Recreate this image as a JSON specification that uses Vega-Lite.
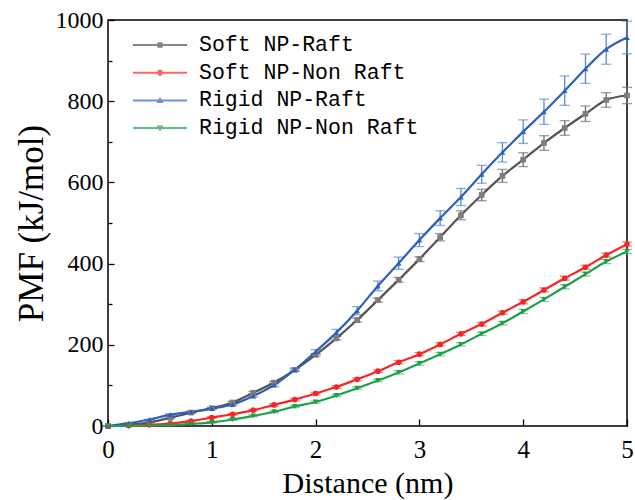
{
  "$schema": "https://vega.github.io/schema/vega-lite/v6.json",
  "width": 519,
  "height": 406,
  "autosize": {"type": "none"},
  "padding": {"left": 108, "top": 20, "right": 8, "bottom": 74},
  "background": "white",
  "config": {
    "view": {"stroke": "#000000", "strokeWidth": 1.5},
    "font": "Liberation Serif",
    "axis": {
      "grid": false,
      "domain": false,
      "tickColor": "#000000",
      "tickWidth": 1.3,
      "labelColor": "#000000",
      "titleColor": "#000000",
      "titleFontWeight": "normal"
    }
  },
  "datasets": {
    "pmf": [
      {"series": "Soft NP-Raft", "d": 0.0, "pmf": 0, "err": 0},
      {"series": "Soft NP-Raft", "d": 0.2, "pmf": 3, "err": 1},
      {"series": "Soft NP-Raft", "d": 0.4, "pmf": 9, "err": 1},
      {"series": "Soft NP-Raft", "d": 0.6, "pmf": 20, "err": 2},
      {"series": "Soft NP-Raft", "d": 0.8, "pmf": 33, "err": 2},
      {"series": "Soft NP-Raft", "d": 1.0, "pmf": 44, "err": 2},
      {"series": "Soft NP-Raft", "d": 1.2, "pmf": 58, "err": 3},
      {"series": "Soft NP-Raft", "d": 1.4, "pmf": 82, "err": 3},
      {"series": "Soft NP-Raft", "d": 1.6, "pmf": 107, "err": 3},
      {"series": "Soft NP-Raft", "d": 1.8, "pmf": 138, "err": 3},
      {"series": "Soft NP-Raft", "d": 2.0, "pmf": 175, "err": 3},
      {"series": "Soft NP-Raft", "d": 2.2, "pmf": 216, "err": 4},
      {"series": "Soft NP-Raft", "d": 2.4, "pmf": 261, "err": 5},
      {"series": "Soft NP-Raft", "d": 2.6, "pmf": 310, "err": 5},
      {"series": "Soft NP-Raft", "d": 2.8, "pmf": 360, "err": 6},
      {"series": "Soft NP-Raft", "d": 3.0, "pmf": 411, "err": 6},
      {"series": "Soft NP-Raft", "d": 3.2, "pmf": 465, "err": 9},
      {"series": "Soft NP-Raft", "d": 3.4, "pmf": 519, "err": 11},
      {"series": "Soft NP-Raft", "d": 3.6, "pmf": 569, "err": 14},
      {"series": "Soft NP-Raft", "d": 3.8, "pmf": 616, "err": 16},
      {"series": "Soft NP-Raft", "d": 4.0, "pmf": 656, "err": 17},
      {"series": "Soft NP-Raft", "d": 4.2, "pmf": 697, "err": 18},
      {"series": "Soft NP-Raft", "d": 4.4, "pmf": 734, "err": 18},
      {"series": "Soft NP-Raft", "d": 4.6, "pmf": 769, "err": 19},
      {"series": "Soft NP-Raft", "d": 4.8, "pmf": 803, "err": 18},
      {"series": "Soft NP-Raft", "d": 5.0, "pmf": 814, "err": 20},
      {"series": "Soft NP-Non Raft", "d": 0.0, "pmf": 0, "err": 0},
      {"series": "Soft NP-Non Raft", "d": 0.2, "pmf": 1, "err": 1},
      {"series": "Soft NP-Non Raft", "d": 0.4, "pmf": 3, "err": 1},
      {"series": "Soft NP-Non Raft", "d": 0.6, "pmf": 6, "err": 1},
      {"series": "Soft NP-Non Raft", "d": 0.8, "pmf": 12, "err": 2},
      {"series": "Soft NP-Non Raft", "d": 1.0, "pmf": 21, "err": 2},
      {"series": "Soft NP-Non Raft", "d": 1.2, "pmf": 29, "err": 2},
      {"series": "Soft NP-Non Raft", "d": 1.4, "pmf": 39, "err": 2},
      {"series": "Soft NP-Non Raft", "d": 1.6, "pmf": 52, "err": 3},
      {"series": "Soft NP-Non Raft", "d": 1.8, "pmf": 65, "err": 3},
      {"series": "Soft NP-Non Raft", "d": 2.0, "pmf": 80, "err": 3},
      {"series": "Soft NP-Non Raft", "d": 2.2, "pmf": 96, "err": 3},
      {"series": "Soft NP-Non Raft", "d": 2.4, "pmf": 115, "err": 3},
      {"series": "Soft NP-Non Raft", "d": 2.6, "pmf": 135, "err": 3},
      {"series": "Soft NP-Non Raft", "d": 2.8, "pmf": 157, "err": 4},
      {"series": "Soft NP-Non Raft", "d": 3.0, "pmf": 177, "err": 4},
      {"series": "Soft NP-Non Raft", "d": 3.2, "pmf": 201, "err": 4},
      {"series": "Soft NP-Non Raft", "d": 3.4, "pmf": 227, "err": 4},
      {"series": "Soft NP-Non Raft", "d": 3.6, "pmf": 251, "err": 4},
      {"series": "Soft NP-Non Raft", "d": 3.8, "pmf": 279, "err": 4},
      {"series": "Soft NP-Non Raft", "d": 4.0, "pmf": 306, "err": 5},
      {"series": "Soft NP-Non Raft", "d": 4.2, "pmf": 335, "err": 5},
      {"series": "Soft NP-Non Raft", "d": 4.4, "pmf": 364, "err": 5},
      {"series": "Soft NP-Non Raft", "d": 4.6, "pmf": 391, "err": 5},
      {"series": "Soft NP-Non Raft", "d": 4.8, "pmf": 421, "err": 5},
      {"series": "Soft NP-Non Raft", "d": 5.0, "pmf": 448, "err": 5},
      {"series": "Rigid NP-Raft", "d": 0.0, "pmf": 0, "err": 0},
      {"series": "Rigid NP-Raft", "d": 0.2, "pmf": 7, "err": 1},
      {"series": "Rigid NP-Raft", "d": 0.4, "pmf": 16, "err": 1},
      {"series": "Rigid NP-Raft", "d": 0.6, "pmf": 28, "err": 2},
      {"series": "Rigid NP-Raft", "d": 0.8, "pmf": 35, "err": 2},
      {"series": "Rigid NP-Raft", "d": 1.0, "pmf": 43, "err": 2},
      {"series": "Rigid NP-Raft", "d": 1.2, "pmf": 53, "err": 3},
      {"series": "Rigid NP-Raft", "d": 1.4, "pmf": 74, "err": 3},
      {"series": "Rigid NP-Raft", "d": 1.6, "pmf": 101, "err": 4},
      {"series": "Rigid NP-Raft", "d": 1.8, "pmf": 139, "err": 4},
      {"series": "Rigid NP-Raft", "d": 2.0, "pmf": 183, "err": 5},
      {"series": "Rigid NP-Raft", "d": 2.2, "pmf": 230, "err": 8},
      {"series": "Rigid NP-Raft", "d": 2.4, "pmf": 284, "err": 10},
      {"series": "Rigid NP-Raft", "d": 2.6, "pmf": 345, "err": 12},
      {"series": "Rigid NP-Raft", "d": 2.8, "pmf": 401, "err": 15},
      {"series": "Rigid NP-Raft", "d": 3.0, "pmf": 458, "err": 16},
      {"series": "Rigid NP-Raft", "d": 3.2, "pmf": 512, "err": 18},
      {"series": "Rigid NP-Raft", "d": 3.4, "pmf": 564, "err": 21},
      {"series": "Rigid NP-Raft", "d": 3.6, "pmf": 620, "err": 22},
      {"series": "Rigid NP-Raft", "d": 3.8, "pmf": 674, "err": 24},
      {"series": "Rigid NP-Raft", "d": 4.0, "pmf": 725, "err": 29},
      {"series": "Rigid NP-Raft", "d": 4.2, "pmf": 774, "err": 31},
      {"series": "Rigid NP-Raft", "d": 4.4, "pmf": 826, "err": 36},
      {"series": "Rigid NP-Raft", "d": 4.6, "pmf": 880, "err": 36},
      {"series": "Rigid NP-Raft", "d": 4.8, "pmf": 928, "err": 37},
      {"series": "Rigid NP-Raft", "d": 5.0, "pmf": 957, "err": 40},
      {"series": "Rigid NP-Non Raft", "d": 0.0, "pmf": 0, "err": 0},
      {"series": "Rigid NP-Non Raft", "d": 0.2, "pmf": 0, "err": 1},
      {"series": "Rigid NP-Non Raft", "d": 0.4, "pmf": 1, "err": 1},
      {"series": "Rigid NP-Non Raft", "d": 0.6, "pmf": 2, "err": 1},
      {"series": "Rigid NP-Non Raft", "d": 0.8, "pmf": 5, "err": 1},
      {"series": "Rigid NP-Non Raft", "d": 1.0, "pmf": 9, "err": 2},
      {"series": "Rigid NP-Non Raft", "d": 1.2, "pmf": 16, "err": 2},
      {"series": "Rigid NP-Non Raft", "d": 1.4, "pmf": 25, "err": 2},
      {"series": "Rigid NP-Non Raft", "d": 1.6, "pmf": 35, "err": 2},
      {"series": "Rigid NP-Non Raft", "d": 1.8, "pmf": 48, "err": 3},
      {"series": "Rigid NP-Non Raft", "d": 2.0, "pmf": 59, "err": 3},
      {"series": "Rigid NP-Non Raft", "d": 2.2, "pmf": 75, "err": 3},
      {"series": "Rigid NP-Non Raft", "d": 2.4, "pmf": 93, "err": 3},
      {"series": "Rigid NP-Non Raft", "d": 2.6, "pmf": 112, "err": 3},
      {"series": "Rigid NP-Non Raft", "d": 2.8, "pmf": 132, "err": 4},
      {"series": "Rigid NP-Non Raft", "d": 3.0, "pmf": 154, "err": 4},
      {"series": "Rigid NP-Non Raft", "d": 3.2, "pmf": 177, "err": 4},
      {"series": "Rigid NP-Non Raft", "d": 3.4, "pmf": 201, "err": 4},
      {"series": "Rigid NP-Non Raft", "d": 3.6, "pmf": 227, "err": 4},
      {"series": "Rigid NP-Non Raft", "d": 3.8, "pmf": 253, "err": 4},
      {"series": "Rigid NP-Non Raft", "d": 4.0, "pmf": 282, "err": 5},
      {"series": "Rigid NP-Non Raft", "d": 4.2, "pmf": 312, "err": 5},
      {"series": "Rigid NP-Non Raft", "d": 4.4, "pmf": 343, "err": 5},
      {"series": "Rigid NP-Non Raft", "d": 4.6, "pmf": 374, "err": 5},
      {"series": "Rigid NP-Non Raft", "d": 4.8, "pmf": 405, "err": 5},
      {"series": "Rigid NP-Non Raft", "d": 5.0, "pmf": 430, "err": 5}
    ]
  },
  "data": {"name": "pmf"},
  "encoding": {
    "x": {
      "field": "d",
      "type": "quantitative",
      "scale": {"domain": [0, 5], "nice": false, "zero": false},
      "axis": {
        "title": "Distance (nm)",
        "titleFontSize": 30,
        "titlePadding": 6,
        "titleFont": "Liberation Serif",
        "labelFont": "Liberation Serif",
        "labelFontSize": 25,
        "values": [0, 0.5, 1, 1.5, 2, 2.5, 3, 3.5, 4, 4.5, 5],
        "format": "d",
        "labelExpr": "datum.value % 1 === 0 ? datum.label : ''",
        "tickSize": {"condition": {"test": "datum.value % 1 === 0", "value": -7}, "value": -4},
        "labelPadding": 18,
        "labelFlush": false,
        "labelOverlap": false
      }
    },
    "y": {
      "field": "pmf",
      "type": "quantitative",
      "scale": {"domain": [0, 1000], "nice": false},
      "axis": {
        "title": "PMF (kJ/mol)",
        "titleFontSize": 35,
        "titlePadding": 6,
        "titleFont": "Liberation Serif",
        "labelFont": "Liberation Serif",
        "labelFontSize": 24,
        "values": [0, 100, 200, 300, 400, 500, 600, 700, 800, 900, 1000],
        "labelExpr": "datum.value % 200 === 0 ? datum.label : ''",
        "tickSize": {"condition": {"test": "datum.value % 200 === 0", "value": -6}, "value": -4},
        "labelPadding": 11,
        "labelFlush": false,
        "labelOverlap": false,
        "format": "d"
      }
    }
  },
  "layer": [
    {
      "mark": {"type": "errorbar", "ticks": {"size": 10}, "thickness": 1.3},
      "encoding": {
        "yError": {"field": "err"},
        "color": {
          "field": "series",
          "type": "nominal",
          "legend": null,
          "scale": {
            "domain": ["Soft NP-Raft", "Soft NP-Non Raft", "Rigid NP-Raft", "Rigid NP-Non Raft"],
            "range": ["#6f6f6f", "#f25656", "#5a87d3", "#4fb873"]
          }
        }
      }
    },
    {
      "mark": {"type": "line", "interpolate": "monotone", "strokeWidth": 2.2},
      "encoding": {
        "color": {
          "field": "series",
          "type": "nominal",
          "legend": null,
          "scale": {
            "domain": ["Soft NP-Raft", "Soft NP-Non Raft", "Rigid NP-Raft", "Rigid NP-Non Raft"],
            "range": ["#545454", "#f52626", "#2f5fbd", "#1fa049"]
          }
        }
      }
    },
    {
      "mark": {"type": "point", "filled": true, "size": 32, "opacity": 1},
      "encoding": {
        "color": {
          "field": "series",
          "type": "nominal",
          "legend": null,
          "scale": {
            "domain": ["Soft NP-Raft", "Soft NP-Non Raft", "Rigid NP-Raft", "Rigid NP-Non Raft"],
            "range": ["#7c7c7c", "#f52626", "#2f5fbd", "#1fa049"]
          }
        },
        "shape": {
          "field": "series",
          "type": "nominal",
          "legend": null,
          "scale": {
            "domain": ["Soft NP-Raft", "Soft NP-Non Raft", "Rigid NP-Raft", "Rigid NP-Non Raft"],
            "range": ["square", "circle", "triangle-up", "triangle-down"]
          }
        }
      }
    },
    {
      "transform": [{"filter": "datum.d > 99"}],
      "mark": {"type": "point", "filled": true, "size": 2916},
      "encoding": {
        "color": {
          "field": "series",
          "type": "nominal",
          "scale": {
            "domain": ["Soft NP-Raft", "Soft NP-Non Raft", "Rigid NP-Raft", "Rigid NP-Non Raft"],
            "range": ["#545454", "#f52626", "#2f5fbd", "#1fa049"]
          },
          "legend": {
            "title": null,
            "orient": "none",
            "legendX": 25,
            "legendY": 14,
            "padding": 0,
            "symbolSize": 2916,
            "symbolStrokeWidth": 0,
            "clipHeight": 22,
            "rowPadding": 5.7,
            "labelOffset": 12,
            "labelFont": "Liberation Mono",
            "labelFontSize": 21.5,
            "labelColor": "#000000",
            "labelLimit": 400
          }
        },
        "shape": {
          "field": "series",
          "type": "nominal",
          "scale": {
            "domain": ["Soft NP-Raft", "Soft NP-Non Raft", "Rigid NP-Raft", "Rigid NP-Non Raft"],
            "range": [
              "M-1,-0.037H1V0.037H-1Z M-0.1,-0.1H0.1V0.1H-0.1Z",
              "M-1,-0.037H1V0.037H-1Z M0.12,0L0.085,0.085L0,0.12L-0.085,0.085L-0.12,0L-0.085,-0.085L0,-0.12L0.085,-0.085Z",
              "M-1,-0.037H1V0.037H-1Z M0,-0.13L0.13,0.1H-0.13Z",
              "M-1,-0.037H1V0.037H-1Z M0,0.13L-0.13,-0.1H0.13Z"
            ]
          },
          "legend": {
            "title": null,
            "orient": "none",
            "legendX": 25,
            "legendY": 14,
            "padding": 0,
            "symbolSize": 2916,
            "symbolStrokeWidth": 0,
            "clipHeight": 22,
            "rowPadding": 5.7,
            "labelOffset": 12,
            "labelFont": "Liberation Mono",
            "labelFontSize": 21.5,
            "labelColor": "#000000",
            "labelLimit": 400
          }
        }
      }
    }
  ],
  "resolve": {"scale": {"color": "independent", "shape": "independent"}}
}
